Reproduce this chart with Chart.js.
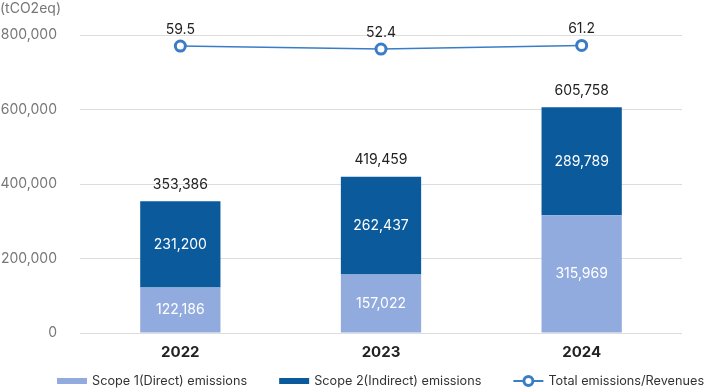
<!DOCTYPE html>
<html>
<head>
<meta charset="utf-8">
<script src="https://cdn.jsdelivr.net/npm/chart.js@4.4.1/dist/chart.umd.min.js"></script>
<style>
  html, body { margin: 0; padding: 0; background: #fff; }
  #wrap { width: 707px; height: 389px; position: relative; }
</style>
</head>
<body>
<div id="wrap"><canvas id="emChart"></canvas></div>
<script>
const years = ['2022', '2023', '2024'];
const scope1 = [122186, 157022, 315969];
const scope2 = [231200, 262437, 289789];
const totals = [353386, 419459, 605758];
const intensity = [59.5, 52.4, 61.2];
const yTicks = [0, 200000, 400000, 600000, 800000];

const FONT = 'Inter, "Noto Sans", sans-serif';
const C1 = '#91abdf';
const C2 = '#0b5a9c';
const CL = '#3a7dc6';

function fmt(v) { return v.toLocaleString('en-US'); }

const valueLabels = {
    id: 'valueLabels',
    afterDatasetsDraw(chart) {
        const g = chart.ctx;
        g.save();
        g.textAlign = 'center';
        g.textBaseline = 'middle';
        g.font = '14px ' + FONT;
        // values inside bars
        [0, 1].forEach(di => {
            chart.getDatasetMeta(di).data.forEach((bar, i) => {
                g.fillStyle = '#ffffff';
                g.fillText(fmt(chart.data.datasets[di].data[i]), bar.x, (bar.y + bar.base) / 2);
            });
        });
        // totals on top of the stack
        chart.getDatasetMeta(1).data.forEach((bar, i) => {
            g.fillStyle = '#222222';
            g.fillText(fmt(totals[i]), bar.x, bar.y - 17);
        });
        // line values
        chart.getDatasetMeta(2).data.forEach((pt, i) => {
            g.fillStyle = '#222222';
            g.fillText(intensity[i].toFixed(1), pt.x, pt.y - 16.5);
        });
        // unit label
        g.textAlign = 'left';
        g.fillStyle = '#777777';
        g.fillText('(tCO2eq)', 0, 9);
        g.restore();
    }
};

// legend drawn by hand so icons and spacing match
const bottomLegend = {
    id: 'bottomLegend',
    afterDraw(chart) {
        const g = chart.ctx;
        const y = 381;
        let x = 57;
        g.save();
        g.font = '12.7px ' + FONT;
        g.textBaseline = 'middle';
        g.textAlign = 'left';
        chart.data.datasets.forEach((ds, i) => {
            if (ds.type === 'line') {
                g.strokeStyle = ds.borderColor;
                g.lineWidth = 2;
                g.beginPath(); g.moveTo(x, y); g.lineTo(x + 30, y); g.stroke();
                g.fillStyle = '#fff';
                g.lineWidth = 3;
                g.beginPath(); g.arc(x + 15, y, 4.5, 0, Math.PI * 2); g.fill(); g.stroke();
            } else {
                g.fillStyle = ds.backgroundColor;
                g.fillRect(x, y - 3, 30, 6);
            }
            x += 35;
            g.fillStyle = '#333';
            g.fillText(ds.label, x, y);
            x += g.measureText(ds.label).width + 32;
        });
        g.restore();
    }
};

new Chart(document.getElementById('emChart'), {
    type: 'bar',
    data: {
        labels: years,
        datasets: [
            {
                label: 'Scope 1(Direct) emissions',
                data: scope1,
                backgroundColor: C1,
                stack: 's',
                order: 2,
                barPercentage: 0.4,
                categoryPercentage: 1
            },
            {
                label: 'Scope 2(Indirect) emissions',
                data: scope2,
                backgroundColor: C2,
                stack: 's',
                order: 2,
                barPercentage: 0.4,
                categoryPercentage: 1
            },
            {
                label: 'Total emissions/Revenues',
                data: intensity,
                type: 'line',
                yAxisID: 'y1',
                borderColor: CL,
                borderWidth: 1.5,
                pointRadius: 5,
                pointBorderWidth: 3,
                pointBackgroundColor: '#fff',
                pointBorderColor: CL,
                order: 1
            }
        ]
    },
    options: {
        responsive: true,
        maintainAspectRatio: false,
        animation: false,
        layout: { padding: { top: 35, right: 25, left: 0, bottom: 26 } },
        plugins: {
            tooltip: { enabled: false },
            legend: { display: false }
        },
        scales: {
            x: {
                stacked: true,
                grid: { display: false },
                border: { display: false },
                ticks: { color: '#222', font: { family: FONT, size: 15, weight: 'bold' }, padding: 2 }
            },
            y: {
                stacked: true,
                min: 0,
                max: 800000,
                afterBuildTicks(axis) { axis.ticks = yTicks.map(v => ({ value: v })); },
                afterFit(axis) { axis.width = 80; },
                grid: { color: '#dddddd', drawTicks: false },
                border: { display: false },
                ticks: {
                    color: '#777',
                    padding: 23,
                    font: { family: FONT, size: 14 },
                    callback: v => fmt(v)
                }
            },
            y1: {
                display: false,
                min: -626,
                max: 86
            }
        }
    },
    plugins: [valueLabels, bottomLegend]
});
</script>
</body>
</html>
